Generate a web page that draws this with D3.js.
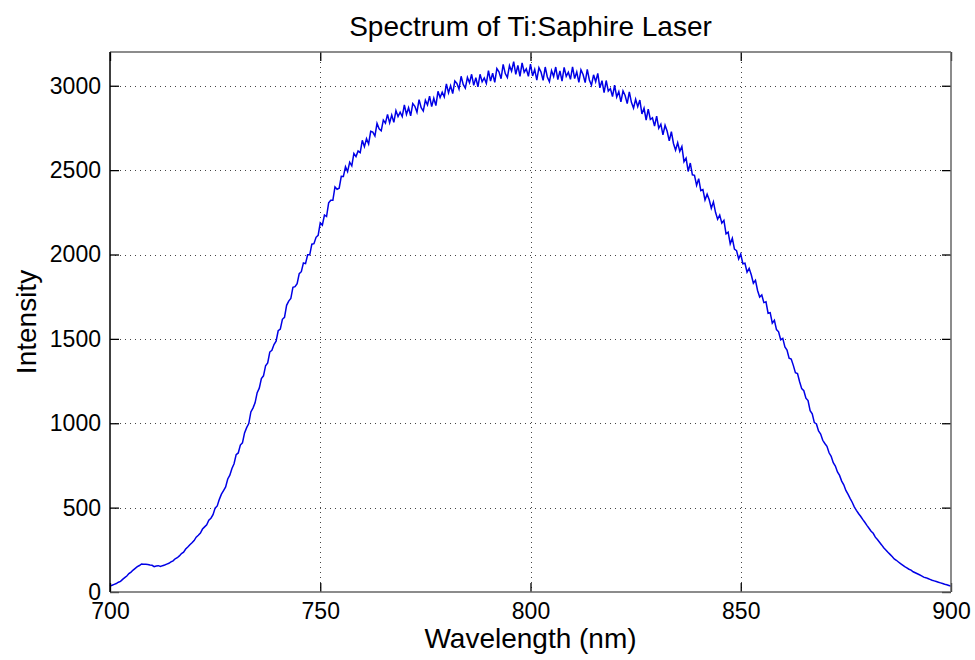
<!DOCTYPE html>
<html>
<head>
<meta charset="utf-8">
<script src="https://cdn.jsdelivr.net/npm/d3@7"></script>
<style>
  html, body { margin: 0; padding: 0; background: #fff; }
  svg { display: block; }
  text { font-family: "Liberation Sans", Arial, Helvetica, sans-serif; fill: #000; }
</style>
</head>
<body>
<svg id="chart" width="975" height="660"></svg>
<script>
// ---- data ----
const title = "Spectrum of Ti:Saphire Laser";
const xLabel = "Wavelength (nm)";
const yLabel = "Intensity";
const xTicks = [700, 750, 800, 850, 900];
const yTicks = [0, 500, 1000, 1500, 2000, 2500, 3000];
const xDomain = [700, 900];
const yDomain = [0, 3200];
const wavelengthStart = 700;   // nm, first sample
const wavelengthStep = 0.5;    // nm between samples
// intensity samples, one row per 10 nm (20 samples), last value at 900 nm
const intensity = [
  35,40,45,50,58,63,75,85,95,109,118,130,140,150,157,166,165,164,163,160,
  158,150,154,156,151,156,160,165,170,178,185,197,203,214,228,236,255,267,280,292,
  305,325,336,349,373,386,398,425,437,458,497,510,549,580,601,623,670,692,732,760,
  814,824,871,884,943,974,998,1067,1090,1121,1181,1208,1265,1281,1341,1357,1422,1432,1466,1486,
  1548,1558,1616,1628,1699,1724,1739,1805,1809,1827,1887,1898,1950,1946,1998,1998,2061,2064,2102,2114,
  2187,2174,2234,2225,2306,2321,2321,2400,2386,2393,2463,2462,2520,2491,2547,2525,2599,2580,2613,2604,
  2677,2639,2686,2655,2730,2725,2702,2777,2745,2733,2796,2778,2830,2780,2826,2783,2853,2818,2843,2817,
  2886,2830,2870,2822,2894,2878,2843,2918,2870,2850,2914,2886,2938,2876,2926,2882,2967,2930,2962,2934,
  3011,2958,3000,2954,3028,3014,2980,3056,3008,2986,3049,3018,3068,3002,3048,2994,3068,3023,3046,3014,
  3090,3028,3074,3020,3102,3083,3042,3127,3072,3049,3119,3086,3143,3068,3120,3056,3136,3080,3100,3056,
  3128,3058,3096,3033,3107,3081,3032,3111,3052,3024,3090,3055,3111,3036,3088,3027,3109,3056,3080,3038,
  3112,3043,3082,3020,3094,3067,3019,3097,3034,3003,3065,3024,3073,2988,3030,2959,3031,2968,2983,2936,
  3003,2933,2965,2904,2969,2942,2894,2964,2902,2867,2920,2876,2915,2833,2867,2797,2862,2800,2810,2761,
  2820,2748,2772,2709,2766,2730,2673,2728,2658,2618,2662,2611,2640,2550,2571,2492,2542,2472,2469,2410,
  2449,2379,2385,2323,2357,2324,2274,2312,2250,2209,2234,2186,2202,2123,2133,2063,2096,2032,2023,1974,
  2002,1945,1948,1895,1918,1880,1830,1847,1787,1748,1760,1715,1720,1652,1655,1593,1610,1555,1542,1495,
  1503,1452,1434,1386,1380,1343,1299,1294,1246,1205,1193,1149,1134,1075,1056,1004,996,954,936,899,
  880,863,825,804,766,746,711,691,657,635,602,580,555,532,505,484,465,449,430,413,
  395,378,360,348,325,311,295,279,262,249,235,223,210,196,188,178,168,159,150,143,
  135,130,120,114,108,102,96,88,85,80,75,70,66,62,58,54,50,46,43,39,
  35
];

// ---- layout ----
const W = 975, H = 660;
const margin = { left: 110, right: 24, top: 52, bottom: 68 };
const iw = W - margin.left - margin.right;
const ih = H - margin.top - margin.bottom;

const svg = d3.select("#chart");
const g = svg.append("g").attr("transform", `translate(${margin.left},${margin.top})`);

const x = d3.scaleLinear().domain(xDomain).range([0, iw]);
const y = d3.scaleLinear().domain(yDomain).range([ih, 0]);

g.append("rect").attr("width", iw).attr("height", ih).attr("fill", "#fff");

// grid (dotted)
const gridColor = "#444";
g.append("g").selectAll("line").data(xTicks.filter(t => t > xDomain[0] && t < xDomain[1]))
  .join("line")
  .attr("x1", d => Math.round(x(d)) + 0.5).attr("x2", d => Math.round(x(d)) + 0.5)
  .attr("y1", 0).attr("y2", ih)
  .attr("stroke", gridColor).attr("stroke-width", 1)
  .attr("stroke-dasharray", "1,4");
g.append("g").selectAll("line").data(yTicks.filter(t => t > yDomain[0] && t < yDomain[1]))
  .join("line")
  .attr("y1", d => Math.round(y(d)) + 0.5).attr("y2", d => Math.round(y(d)) + 0.5)
  .attr("x1", 0).attr("x2", iw)
  .attr("stroke", gridColor).attr("stroke-width", 1)
  .attr("stroke-dasharray", "1,4");

// data line
const data = intensity.map((v, i) => ({ w: wavelengthStart + i * wavelengthStep, v }));
const line = d3.line().x(d => x(d.w)).y(d => y(d.v));
g.append("path").datum(data)
  .attr("fill", "none")
  .attr("stroke", "#0000e6")
  .attr("stroke-width", 1.5)
  .attr("stroke-linejoin", "miter")
  .attr("d", line);

// axes (MATLAB style: ticks inward on all four sides)
const tickLen = 9;
const fmt = d3.format("d");
const axFont = "23px";

const xAxisB = d3.axisBottom(x).tickValues(xTicks).tickSize(-tickLen).tickPadding(11).tickFormat(fmt);
const xAxisT = d3.axisTop(x).tickValues(xTicks).tickSize(-tickLen).tickFormat("");
const yAxisL = d3.axisLeft(y).tickValues(yTicks).tickSize(-tickLen).tickPadding(9).tickFormat(fmt);
const yAxisR = d3.axisRight(y).tickValues(yTicks).tickSize(-tickLen).tickFormat("");

function styleAxis(sel) {
  sel.select(".domain").remove();
  sel.selectAll(".tick line").attr("stroke", "#000").attr("stroke-width", 1.3);
  sel.selectAll("text").style("font-size", axFont).attr("fill", "#000");
}
g.append("g").attr("transform", `translate(0,${ih})`).call(xAxisB).call(styleAxis);
g.append("g").call(xAxisT).call(styleAxis);
g.append("g").call(yAxisL).call(styleAxis);
g.append("g").attr("transform", `translate(${iw},0)`).call(yAxisR).call(styleAxis);

// box
g.append("line").attr("x1", 0).attr("x2", iw).attr("y1", 0).attr("y2", 0).attr("stroke", "#666").attr("stroke-width", 1.5);
g.append("line").attr("x1", iw).attr("x2", iw).attr("y1", 0).attr("y2", ih).attr("stroke", "#666").attr("stroke-width", 1.5);
g.append("line").attr("x1", 0).attr("x2", iw).attr("y1", ih).attr("y2", ih).attr("stroke", "#666").attr("stroke-width", 1.5);
g.append("line").attr("x1", 0).attr("x2", 0).attr("y1", 0).attr("y2", ih).attr("stroke", "#000").attr("stroke-width", 1.5);

// labels
svg.append("text").attr("x", margin.left + iw / 2).attr("y", 36)
  .attr("text-anchor", "middle").style("font-size", "28px").text(title);
svg.append("text").attr("x", margin.left + iw / 2).attr("y", 648)
  .attr("text-anchor", "middle").style("font-size", "28px").text(xLabel);
svg.append("text").attr("transform", `translate(36,${margin.top + ih / 2}) rotate(-90)`)
  .attr("text-anchor", "middle").style("font-size", "28px").text(yLabel);
</script>
</body>
</html>
